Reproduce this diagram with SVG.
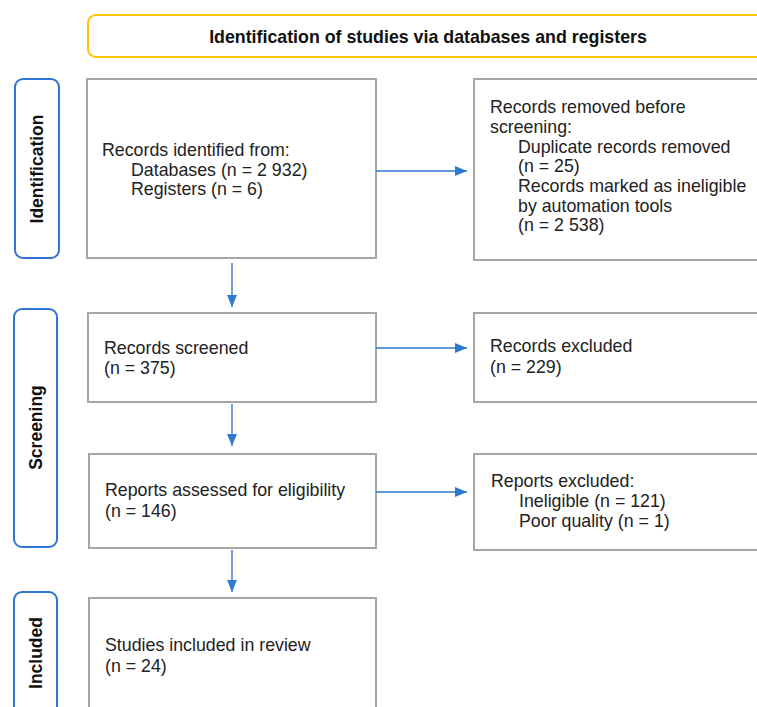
<svg xmlns="http://www.w3.org/2000/svg" width="757" height="707" viewBox="0 0 757 707">
<defs>
<style>
.box{fill:#fff;stroke:#a6a6a6;stroke-width:2}
.pill{fill:#fff;stroke:#2f74d0;stroke-width:2}
.hdr{fill:#fff;stroke:#ffc000;stroke-width:2}
.t{font-family:"Liberation Sans",Arial,sans-serif;font-size:17.8px;fill:#222}
.side{font-family:"Liberation Sans",Arial,sans-serif;font-size:17.5px;font-weight:bold;fill:#111;text-anchor:middle}
.h{font-family:"Liberation Sans",Arial,sans-serif;font-size:17.8px;font-weight:bold;fill:#111;text-anchor:middle}
.c{stroke:#2e7ad1;stroke-width:1.4;fill:none}
</style>
<marker id="ah" viewBox="0 0 12 10" refX="12" refY="5" markerWidth="12" markerHeight="10" markerUnits="userSpaceOnUse" orient="auto">
<path d="M0,0 L12,5 L0,10 Z" fill="#2e7ad1"/>
</marker>
</defs>
<rect width="757" height="707" fill="#fff"/>

<g id="header">
<rect class="hdr" x="88" y="15" width="690" height="42" rx="8"/>
<text class="h" x="428" y="43">Identification of studies via databases and registers</text>
</g>

<g id="stage-identification">
<rect class="pill" x="15" y="79" width="44" height="179" rx="8"/>
<text class="side" transform="translate(43,169) rotate(-90)">Identification</text>
</g>
<g id="stage-screening">
<rect class="pill" x="14" y="309" width="43" height="238" rx="8"/>
<text class="side" transform="translate(42,427.5) rotate(-90)">Screening</text>
</g>
<g id="stage-included">
<rect class="pill" x="14" y="592" width="43" height="130" rx="8"/>
<text class="side" transform="translate(42,653) rotate(-90)">Included</text>
</g>

<g id="records-identified">
<rect class="box" x="87" y="79" width="289" height="179"/>
<text class="t" x="102" y="156">Records identified from:</text>
<text class="t" x="131" y="176">Databases (n = 2 932)</text>
<text class="t" x="131" y="195">Registers (n = 6)</text>
</g>

<g id="records-removed">
<rect class="box" x="474" y="79" width="300" height="181"/>
<text class="t" x="490" y="113">Records removed before</text>
<text class="t" x="490" y="133">screening:</text>
<text class="t" x="518" y="153">Duplicate records removed</text>
<text class="t" x="518" y="172">(n = 25)</text>
<text class="t" x="518" y="192">Records marked as ineligible</text>
<text class="t" x="518" y="212">by automation tools</text>
<text class="t" x="518" y="231">(n = 2 538)</text>
</g>

<g id="records-screened">
<rect class="box" x="88" y="313" width="288" height="89"/>
<text class="t" x="104" y="354">Records screened</text>
<text class="t" x="104" y="374">(n = 375)</text>
</g>

<g id="records-excluded">
<rect class="box" x="474" y="313" width="300" height="89"/>
<text class="t" x="490" y="352">Records excluded</text>
<text class="t" x="490" y="373">(n = 229)</text>
</g>

<g id="reports-assessed">
<rect class="box" x="89" y="454" width="287" height="94"/>
<text class="t" x="105" y="496">Reports assessed for eligibility</text>
<text class="t" x="105" y="517">(n = 146)</text>
</g>

<g id="reports-excluded">
<rect class="box" x="474" y="454" width="300" height="96"/>
<text class="t" x="491" y="487">Reports excluded:</text>
<text class="t" x="519" y="507">Ineligible (n = 121)</text>
<text class="t" x="519" y="527">Poor quality (n = 1)</text>
</g>

<g id="studies-included">
<rect class="box" x="89" y="598" width="287" height="130"/>
<text class="t" x="105" y="651">Studies included in review</text>
<text class="t" x="105" y="672">(n = 24)</text>
</g>

<g id="connectors">
<line class="c" x1="376" y1="171" x2="467" y2="171" marker-end="url(#ah)"/>
<line class="c" x1="232" y1="263" x2="232" y2="307" marker-end="url(#ah)"/>
<line class="c" x1="376" y1="348" x2="467" y2="348" marker-end="url(#ah)"/>
<line class="c" x1="232" y1="404" x2="232" y2="446" marker-end="url(#ah)"/>
<line class="c" x1="376" y1="492" x2="467" y2="492" marker-end="url(#ah)"/>
<line class="c" x1="232" y1="550" x2="232" y2="592" marker-end="url(#ah)"/>
</g>
</svg>
